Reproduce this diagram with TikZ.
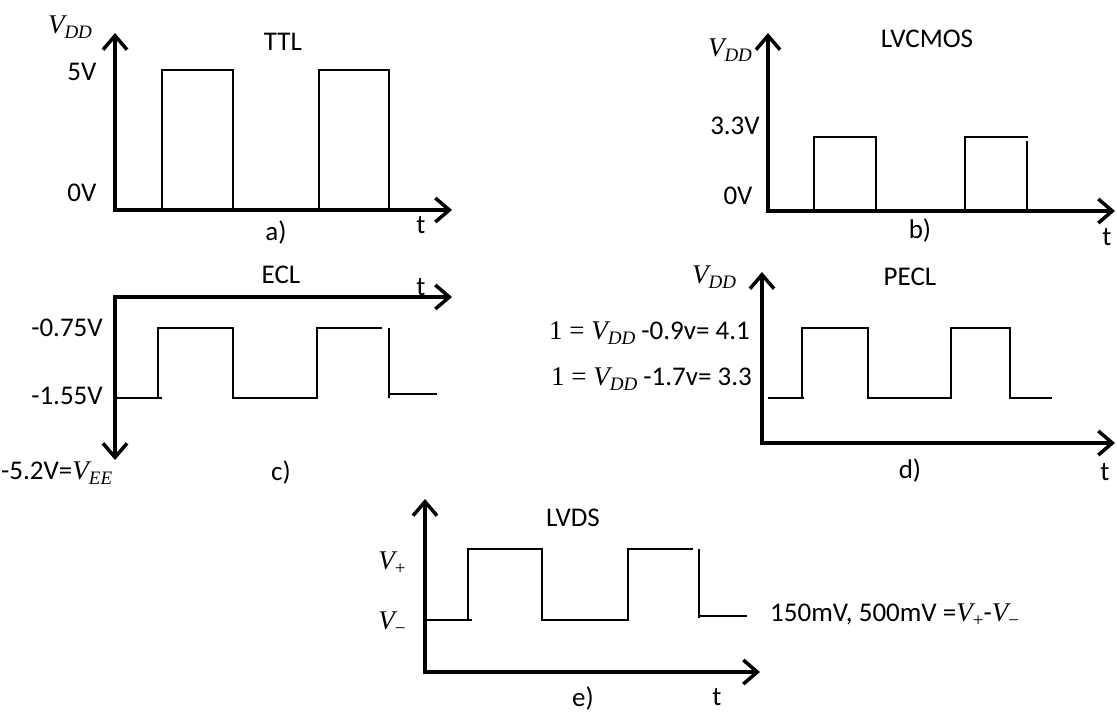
\documentclass[tikz,border=0pt]{standalone}
\usepackage{fontspec}
\setmainfont{Carlito}
\newfontfamily\mfont{Liberation Serif}
\newcommand\vsub[2]{{\mfont\itshape #1}\raisebox{-5pt}{\fontsize{19}{20}\selectfont\mfont\itshape #2}}
\usetikzlibrary{arrows.meta}
\begin{document}
\begin{tikzpicture}[x=1pt,y=-1pt,
  axis/.style={line width=4pt,-{Straight Barb[length=14pt,width=24pt,line width=3.5pt]}},
  wave/.style={line width=2.5pt},
  lbl/.style={inner sep=0pt,font=\fontsize{27}{32}\selectfont},
  every node/.style={inner sep=0pt}]
\useasboundingbox (0,0) rectangle (1117,712);
% ---------- a) TTL
\draw[axis] (115,210) -- (115,33);
\draw[axis] (113,210) -- (452,210);
\draw[wave] (162,210) -- (162,70) -- (233,70) -- (233,210);
\draw[wave] (319,210) -- (319,70) -- (389,70) -- (389,210);
\node[lbl] (aV) at (70,27) {\vsub{V}{DD}};
\node[lbl] (aT) at (283,42) {TTL};
\node[lbl] (a5) at (82,72) {5V};
\node[lbl] (a0) at (82,193) {0V};
\node[lbl] (aL) at (276,232) {a)};
\node[lbl] (at) at (421,225) {t};
% ---------- b) LVCMOS
\draw[axis] (768,211) -- (768,33);
\draw[axis] (766,211) -- (1115,211);
\draw[wave] (814,211) -- (814,137) -- (876,137) -- (876,211);
\draw[wave] (965,209) -- (965,137) -- (1028,137);
\draw[wave] (1027,141) -- (1027,211);
\node[lbl] (bV) at (730,50) {\vsub{V}{DD}};
\node[lbl] (bT) at (927,39) {LVCMOS};
\node[lbl] (b3) at (735,126) {3.3V};
\node[lbl] (b0) at (738,196) {0V};
\node[lbl] (bL) at (920,230) {b)};
\node[lbl] (bt) at (1107,237) {t};
% ---------- c) ECL
\draw[axis] (115,297) -- (115,460);
\draw[axis] (113,297) -- (452,297);
\draw[wave] (117,398) -- (162,398);
\draw[wave] (158,399) -- (158,328) -- (233,328) -- (233,398) -- (317,398) -- (317,328) -- (382,328);
\draw[wave] (389,328) -- (389,398);
\draw[wave] (389,394) -- (437,394);
\node[lbl] (cT) at (281,275) {ECL};
\node[lbl] (ct) at (421,287) {t};
\node[lbl] (c1) at (67,328) {-0.75V};
\node[lbl] (c2) at (67,396) {-1.55V};
\node[lbl,anchor=west] (c3) at (1,473) {-5.2V=\vsub{V}{EE}};
\node[lbl] (cL) at (281,472) {c)};
% ---------- d) PECL
\draw[axis] (762,443) -- (762,272);
\draw[axis] (760,443) -- (1115,443);
\draw[wave] (768,398) -- (804,398);
\draw[wave] (802,399) -- (802,328) -- (868,328) -- (868,398) -- (951,398) -- (951,328) -- (1010,328) -- (1010,398) -- (1052,398);
\node[lbl] (dV) at (714,277) {\vsub{V}{DD}};
\node[lbl] (dT) at (910,277) {PECL};
\node[lbl,anchor=east] (d1) at (750,333) {{\mfont 1 = }\vsub{V}{DD} -0.9v= 4.1};
\node[lbl,anchor=east] (d2) at (752,379) {{\mfont 1 = }\vsub{V}{DD} -1.7v= 3.3};
\node[lbl] (dL) at (910,470) {d)};
\node[lbl] (dt) at (1105,472) {t};
% ---------- e) LVDS
\draw[axis] (425,672) -- (425,499);
\draw[axis] (423,672) -- (760,672);
\draw[wave] (427,620) -- (472,620);
\draw[wave] (468,621) -- (468,549) -- (542,549) -- (542,620) -- (628,620) -- (628,549) -- (693,549);
\draw[wave] (699,549) -- (699,618);
\draw[wave] (699,616) -- (747,616);
\node[lbl] (eT) at (573,518) {LVDS};
\node[lbl] (eP) at (392,563) {\vsub{V}{\upshape +}};
\node[lbl] (eM) at (392,623) {\vsub{V}{\upshape −}};
\node[lbl] (eL) at (583,698) {e)};
\node[lbl] (et) at (717,697) {t};
\node[lbl,anchor=west] (eN) at (770,615) {150mV, 500mV =\vsub{V}{\upshape +}-\vsub{V}{\upshape −}};
\end{tikzpicture}
\end{document}
